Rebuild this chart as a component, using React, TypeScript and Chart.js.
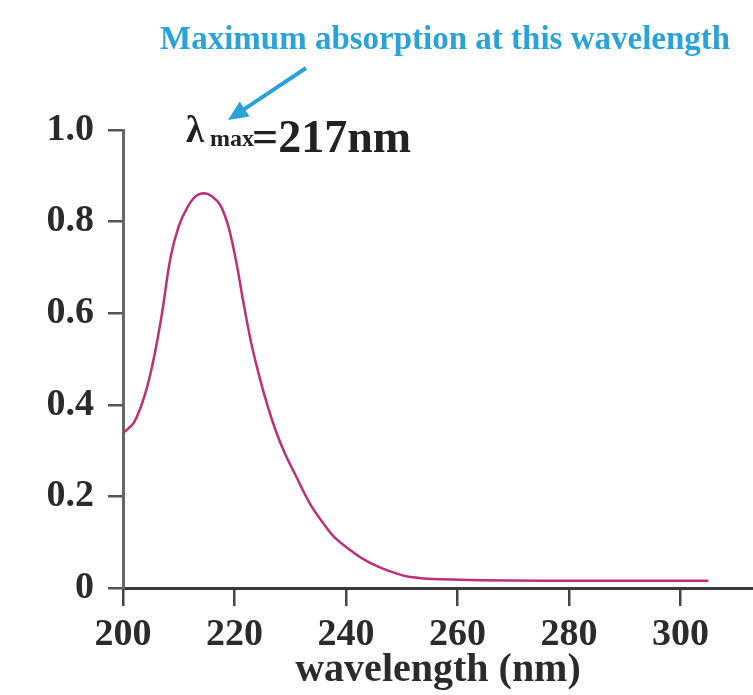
import React, { useEffect, useRef } from 'react';
import { Chart, registerables } from 'chart.js';

Chart.register(...registerables);

// ---- data ----
const wavelengths = [
  200, 202, 204, 205.5, 207, 208.5, 210, 211.5, 213, 214.5, 216, 217.5, 219, 220.5,
  221.5, 223, 224.5, 226, 227.5, 229, 231, 233.5, 236, 238, 241.5, 244, 246.5, 249,
  251, 254, 257, 264, 275, 290, 305,
];
const absorbance = [
  0.338, 0.362, 0.425, 0.5, 0.6, 0.72, 0.79, 0.83, 0.855, 0.862, 0.855, 0.835, 0.785, 0.7,
  0.63, 0.535, 0.46, 0.395, 0.34, 0.295, 0.245, 0.185, 0.14, 0.11, 0.076, 0.057, 0.043, 0.032,
  0.025, 0.021, 0.019, 0.017, 0.016, 0.016, 0.016,
];
const xTickValues = [200, 220, 240, 260, 280, 300];
const yTickValues = [0, 0.2, 0.4, 0.6, 0.8, 1.0];
const xAxisTitle = 'wavelength (nm)';
const annotationText = 'Maximum absorption at this wavelength';
const lambdaSymbol = 'λ';
const lambdaSub = 'max';
const lambdaValue = '=217nm';

const SERIF = '"Liberation Serif", "Times New Roman", serif';

const annotationPlugin = {
  id: 'annotations',
  afterDraw(chart: any) {
    const ctx = chart.ctx as CanvasRenderingContext2D;
    ctx.save();
    // cyan caption
    ctx.fillStyle = '#2ba3d8';
    ctx.font = `bold 33px ${SERIF}`;
    ctx.textBaseline = 'alphabetic';
    ctx.textAlign = 'left';
    ctx.fillText(annotationText, 160, 49);
    // arrow
    const tail = { x: 306, y: 68 };
    const tip = { x: 228, y: 120 };
    const dx = tip.x - tail.x;
    const dy = tip.y - tail.y;
    const len = Math.hypot(dx, dy);
    const ux = dx / len;
    const uy = dy / len;
    const headLen = 20;
    const halfW = 9;
    const bx = tip.x - ux * headLen;
    const by = tip.y - uy * headLen;
    ctx.strokeStyle = '#2ba3d8';
    ctx.lineWidth = 4;
    ctx.beginPath();
    ctx.moveTo(tail.x, tail.y);
    ctx.lineTo(bx + ux * 4, by + uy * 4);
    ctx.stroke();
    ctx.fillStyle = '#2ba3d8';
    ctx.beginPath();
    ctx.moveTo(tip.x, tip.y);
    ctx.lineTo(bx - uy * halfW, by + ux * halfW);
    ctx.lineTo(bx + uy * halfW, by - ux * halfW);
    ctx.closePath();
    ctx.fill();
    // lambda max label
    ctx.fillStyle = '#222';
    ctx.font = `bold 37px ${SERIF}`;
    ctx.fillText(lambdaSymbol, 186, 142);
    ctx.font = `bold 24px ${SERIF}`;
    ctx.fillText(lambdaSub, 210, 146);
    ctx.font = `bold 46px ${SERIF}`;
    ctx.fillText(lambdaValue, 252, 152);
    ctx.restore();
  },
};

export default function App() {
  const canvasRef = useRef<HTMLCanvasElement | null>(null);

  useEffect(() => {
    if (!canvasRef.current) return;
    const chart = new Chart(canvasRef.current, {
      type: 'line',
      data: {
        datasets: [
          {
            data: wavelengths.map((w, i) => ({ x: w, y: absorbance[i] })),
            borderColor: '#bd2f78',
            borderWidth: 2.5,
            pointRadius: 0,
            tension: 0.35,
            fill: false,
          },
        ],
      },
      options: {
        animation: false,
        responsive: true,
        maintainAspectRatio: false,
        layout: { padding: { top: 130, right: 0, bottom: 0, left: 0 } },
        plugins: {
          legend: { display: false },
          tooltip: { enabled: false },
        },
        scales: {
          x: {
            type: 'linear',
            min: 200,
            max: 313,
            afterBuildTicks: (scale: any) => {
              scale.ticks = xTickValues.map((v) => ({ value: v }));
            },
            afterFit: (scale: any) => {
              scale.height = 107;
            },
            ticks: {
              color: '#2b2b2b',
              font: { family: SERIF, size: 38, weight: 'bold' },
              padding: 6,
              maxRotation: 0,
              autoSkip: false,
              callback: (v: any) => String(v),
            },
            grid: {
              display: true,
              drawOnChartArea: false,
              drawTicks: true,
              tickLength: 18,
              color: '#444',
              lineWidth: 2.5,
            },
            border: { display: true, color: '#3a3a3a', width: 3 },
            title: {
              display: true,
              text: xAxisTitle,
              color: '#2b2b2b',
              font: { family: SERIF, size: 40, weight: 'bold' },
              padding: { top: 0, bottom: 0 },
            },
          },
          y: {
            type: 'linear',
            min: 0,
            max: 1.0,
            afterBuildTicks: (scale: any) => {
              scale.ticks = yTickValues.map((v) => ({ value: v }));
            },
            afterFit: (scale: any) => {
              scale.width = 123;
            },
            ticks: {
              color: '#2b2b2b',
              font: { family: SERIF, size: 38, weight: 'bold' },
              padding: 14,
              autoSkip: false,
              callback: (v: any) => (Number(v) === 0 ? '0' : Number(v).toFixed(1)),
            },
            grid: {
              display: true,
              drawOnChartArea: false,
              drawTicks: true,
              tickLength: 15,
              color: '#555',
              lineWidth: 2.5,
            },
            border: { display: true, color: '#666', width: 3 },
          },
        },
      },
      plugins: [annotationPlugin],
    } as any);
    return () => chart.destroy();
  }, []);

  return (
    <div style={{ position: 'absolute', left: 0, top: 0, width: 753, height: 695, background: '#fff' }}>
      <canvas ref={canvasRef} />
    </div>
  );
}
